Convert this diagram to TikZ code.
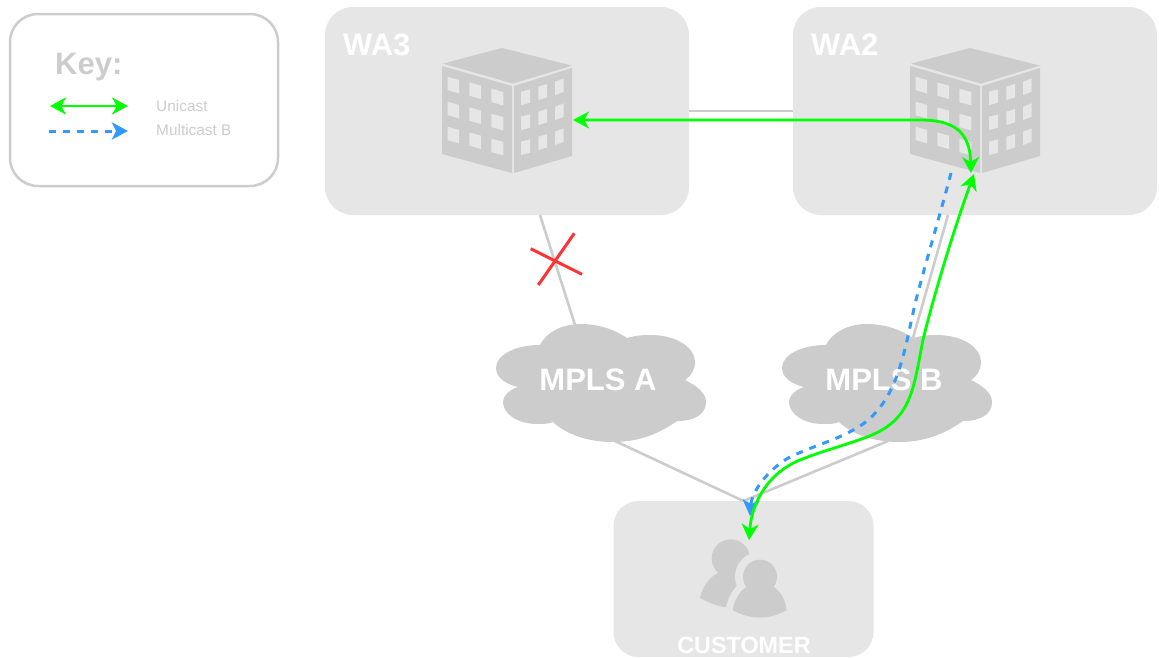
\documentclass[tikz,border=0pt]{standalone}
\usepackage{fontspec}
\setmainfont{Liberation Sans}
\usetikzlibrary{arrows.meta}
\definecolor{boxfill}{HTML}{E6E6E6}
\definecolor{greyshade}{HTML}{CCCCCC}
\definecolor{uni}{HTML}{00FF00}
\definecolor{multi}{HTML}{3399FF}
\definecolor{crossred}{HTML}{FF3333}
\tikzset{
  site/.style={fill=boxfill,draw=none,rounded corners=28pt,inner sep=0pt,outer sep=0pt},
  keybox/.style={draw=greyshade,line width=2.5pt,fill=white,rounded corners=28pt,inner sep=0pt,minimum width=268pt,minimum height=172pt},
  link/.style={draw=greyshade,line width=2.6pt},
  headtext/.style={font=\fontsize{31}{33}\selectfont\bfseries,inner sep=0pt},
  smalltext/.style={font=\fontsize{15.4}{17}\selectfont,text=greyshade,inner sep=0pt,anchor=west},
  unicast/.style={draw=uni,line width=2.8pt},
  multicast/.style={draw=multi,line width=3pt,dash pattern=on 7pt off 7pt},
  uniTip/.tip={Stealth[length=16pt,width=17pt,inset=5pt,color=uni]},
  multiTip/.tip={Stealth[length=16pt,width=17pt,inset=4pt,color=multi]},
  crossline/.style={draw=crossred,line width=3pt}
}
\newcommand{\cloudshape}[1]{%
  \fill[greyshade,shift={(#1,0)}] (540,345) .. controls (548,330) and (565,324) .. (580,324)
    .. controls (600,324) and (615,330) .. (627,338)
    .. controls (637,335) and (645,335) .. (653,335)
    .. controls (678,336) and (695,348) .. (695,362)
    .. controls (695,370) and (691,376) .. (685,380)
    .. controls (697,386) and (706,393) .. (706,402)
    .. controls (706,414) and (695,421) .. (677,421)
    .. controls (660,433) and (640,442) .. (613,442)
    .. controls (587,442) and (566,434) .. (553,422)
    .. controls (548,424) and (543,424) .. (537,424)
    .. controls (518,424) and (503,414) .. (503,402)
    .. controls (503,396) and (509,390) .. (518,387)
    .. controls (505,384) and (496,377) .. (496,368)
    .. controls (496,355) and (515,345) .. (540,345) -- cycle;}
\newcommand{\building}[1]{%
  \begin{scope}[shift={(#1,0)}]
    \fill[greyshade] (443,63.6) -- (502,48) -- (572,65.6) -- (513,83.6) -- cycle;
    \fill[greyshade] (442,66) -- (512,86) -- (512,173) -- (442,154) -- cycle;
    \fill[greyshade] (514,86) -- (572,68) -- (572,156) -- (514,173) -- cycle;
    \foreach \r in {0,1,2}{
      \foreach \xa/\xb/\ya/\yb in {447.7/459/76.7/80,469.3/481/82.3/85.7,491.3/503.3/88.7/92,521/530/91.7/89.3,538.3/547/86.7/84,555/563.7/81.7/78.3}{
        \fill[boxfill] (\xa,\ya+25*\r) -- (\xb,\yb+25*\r) -- (\xb,\yb+25*\r+13.4) -- (\xa,\ya+25*\r+13.4) -- cycle;
      }
    }
  \end{scope}}
\begin{document}
\begin{tikzpicture}[x=1pt,y=-1pt]
\useasboundingbox[fill=white] (0,0) rectangle (1159,657);
% site boxes and key
\node[keybox] (keyframe) at (144,100) {};
\node[site,minimum width=364pt,minimum height=208pt] (wa3) at (507,111) {};
\node[site,minimum width=364pt,minimum height=208pt] (wa2) at (975,111) {};
\node[site,rounded corners=25pt,minimum width=260pt,minimum height=156pt] (customer) at (743.5,579) {};
% connector ends
\coordinate (wa3port) at (540,215);
\coordinate (wa2port) at (948,215);
\coordinate (atop) at (575,325);
\coordinate (abot) at (615,441);
\coordinate (btop) at (913,338);
\coordinate (bbot) at (888,441);
\coordinate (wa3door) at (573,120);
\coordinate (wa2door) at (971,173);
\coordinate (wa2up) at (974,174);
\coordinate (wa2mc) at (951,173);
\coordinate (custuni) at (749,540);
\coordinate (custmc) at (750,516);
\coordinate (xa) at (574.3,233.3);
\coordinate (xb) at (538.3,285);
\coordinate (xc) at (530.7,248.7);
\coordinate (xd) at (582,274.3);
\coordinate (kua) at (50,106);
\coordinate (kub) at (128,106);
\coordinate (kma) at (49,131);
\coordinate (kmb) at (128,131);
% grey links
\draw[link] (wa3.east) -- (wa2.west);
\draw[link] (wa3port) -- (atop);
\draw[link] (wa2port) -- (btop);
\draw[link] (abot) -- (customer.north);
\draw[link] (bbot) -- (customer.north);
\cloudshape{0}
\cloudshape{286}
\node[headtext,text=white] (mplsa) at (598,380) {MPLS A};
\node[headtext,text=white] (mplsb) at (884,380) {MPLS B};
\building{0}
\building{468}
\node[headtext,text=white,anchor=west] (wa3label) at (343,45) {WA3};
\node[headtext,text=white,anchor=west] (wa2label) at (811,45) {WA2};
\node[font=\fontsize{23.4}{25}\selectfont\bfseries,text=white,inner sep=0pt] (custlabel) at (744,645) {CUSTOMER};
% people icon
\fill[greyshade] (730.7,558.3) circle (19);
\fill[greyshade] (700,598) .. controls (703,585) and (710,576) .. (722,571) -- (745,575) -- (745,600) -- (725,607) .. controls (716,606) and (708,602) .. (700,598) -- cycle;
\fill[boxfill] (760,576.7) circle (25);
\filldraw[boxfill,line width=14pt,line join=round] (732.7,610) .. controls (735,596) and (743,588) .. (750,585) -- (770,585) .. controls (778,588) and (785,597) .. (786.7,610) -- cycle;
\fill[boxfill] (725,607) -- (745,625) -- (745,600) -- cycle;
\fill[greyshade] (760,576.7) circle (17);
\fill[greyshade] (732.7,610) .. controls (735,596) and (743,588) .. (750,585) -- (770,585) .. controls (778,588) and (785,597) .. (786.7,610) .. controls (770,620) and (750,620) .. (732.7,610) -- cycle;
% red cross
\draw[crossline] (xa) -- (xb);
\draw[crossline] (xc) -- (xd);
% multicast path
\draw[multicast,-{multiTip}] (wa2mc) .. controls (940,215) and (925,265) .. (916,300)
  .. controls (905,345) and (900,400) .. (860,426)
  .. controls (838,440) and (815,445) .. (790,457)
  .. controls (770,468) and (752,490) .. (custmc);
% unicast paths
\draw[unicast,{uniTip}-{uniTip}] (wa3door) -- (920,120) .. controls (952,120) and (970,130) .. (wa2door);
\draw[unicast,{uniTip}-{uniTip}] (wa2up) .. controls (950,240) and (930,310) .. (923,340)
  .. controls (913,390) and (912,420) .. (867,437)
  .. controls (840,447) and (825,450) .. (800,460)
  .. controls (770,472) and (752,500) .. (custuni);
% key
\node[headtext,text=greyshade,anchor=west] (keytitle) at (55,67) {Key:};
\draw[unicast,{uniTip}-{uniTip}] (kua) -- (kub);
\draw[multicast,-{multiTip}] (kma) -- (kmb);
\node[smalltext] (keyuni) at (156,106) {Unicast};
\node[smalltext] (keymulti) at (156,130) {Multicast B};
\end{tikzpicture}
\end{document}
